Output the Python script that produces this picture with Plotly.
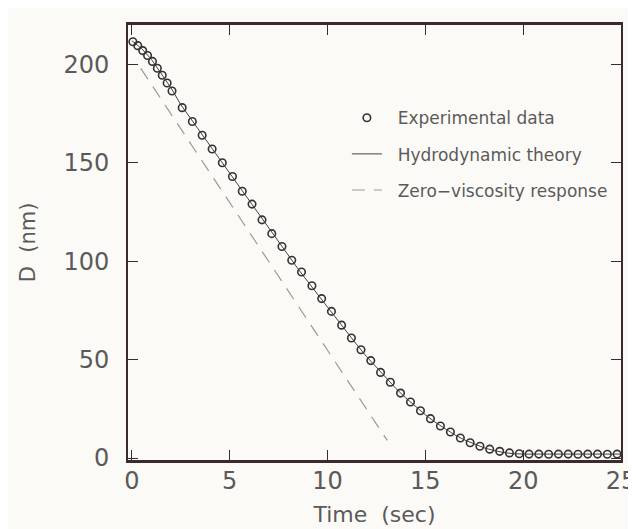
import plotly.graph_objects as go

# ---- data ----
t_exp = [0.05, 0.3, 0.55, 0.8, 1.05, 1.3, 1.55, 1.8, 2.05, 2.57, 3.09, 3.59, 4.10, 4.62,
         5.14, 5.64, 6.14, 6.65, 7.15, 7.67, 8.17, 8.67, 9.20, 9.70, 10.20, 10.72,
         11.22, 11.71, 12.21, 12.71, 13.21, 13.73, 14.24, 14.75, 15.26, 15.77, 16.28,
         16.79, 17.29, 17.79, 18.29, 18.8, 19.3, 19.8, 20.3, 20.8, 21.3, 21.8, 22.3,
         22.8, 23.3, 23.8, 24.3, 24.8]
d_exp = [211.5, 209.5, 207, 204.5, 201.5, 198, 194.5, 190.5, 186.5, 178, 171, 164, 157, 150,
         143, 135.5, 129, 121, 114, 107.5, 100.5, 94.5, 87.5, 81, 74.5, 67.5,
         61, 55, 49.5, 43.5, 38.5, 33, 28.5, 24, 20, 16.3, 13.2,
         10.2, 7.8, 6.0, 4.5, 3.4, 2.6, 2.2, 2.0, 2.0, 1.9, 2.0, 2.0,
         1.9, 2.0, 2.0, 1.9, 2.0]

t_theory = [0, 0.5, 1, 1.5, 2, 2.5, 3, 3.5, 4, 4.5, 5, 5.5, 6, 6.5, 7, 7.5, 8, 8.5, 9, 9.5,
            10, 10.5, 11, 11.5, 12, 12.5, 13, 13.5, 14, 14.5, 15, 15.5, 16, 16.5, 17, 17.5,
            18, 18.5, 19, 19.5, 20, 21, 22, 23, 24, 25]
d_theory = [212, 208, 202.5, 195.5, 188, 179.5, 172.5, 165.5, 158.5, 151.5, 144.5, 137.5,
            130.5, 123.5, 116.5, 109.5, 102.5, 96, 89.5, 83, 76.5, 70, 63.5, 57.5, 51.5,
            46, 40.5, 35.3, 30.5, 26, 22, 18.2, 14.8, 11.8, 9.2, 7.0, 5.2, 3.8, 2.8, 2.2,
            2.0, 2.0, 2.0, 2.0, 2.0, 2.0]

t_zero = [0.45, 13.05]
d_zero = [198, 9]

x_ticks = [0, 5, 10, 15, 20, 25]
y_ticks = [0, 50, 100, 150, 200]

names = ["  Experimental data", "  Hydrodynamic theory", "  Zero\u2212viscosity response"]

frame = "#3b2b2e"
bg = "#fcfaf7"
txt = "#5a5a5a"

fig = go.Figure()
fig.add_trace(go.Scatter(
    x=t_theory, y=d_theory, mode="lines", name=names[1], legendgroup="b", legendrank=2,
    line=dict(color="#444444", width=1)))
fig.add_trace(go.Scatter(
    x=t_zero, y=d_zero, mode="lines", name=names[2], legendgroup="c", legendrank=3,
    line=dict(color="#9a9a9a", width=1.2, dash="13px,9px")))
fig.add_trace(go.Scatter(
    x=t_exp, y=d_exp, mode="markers", name=names[0], legendgroup="a", legendrank=1,
    marker=dict(symbol="circle-open", size=7.5, color="#333333", line=dict(width=1.6))))

axis_common = dict(
    showline=True, linecolor=frame, mirror="allticks",
    ticks="inside", ticklen=10, tickwidth=1.3, tickcolor=frame,
    showgrid=False, zeroline=False, ticklabeloverflow="allow",
    tickfont=dict(family="DejaVu Sans", size=24, color=txt),
)

fig.update_xaxes(range=[-0.2, 25.0], tickvals=x_ticks, ticktext=[str(v) for v in x_ticks],
                 linewidth=2.5, ticklabelstandoff=-3,
                 title=dict(text="Time  (sec)", font=dict(family="DejaVu Sans", size=22, color=txt),
                            standoff=14),
                 **axis_common)
fig.update_yaxes(range=[-1, 220], tickvals=y_ticks, ticktext=[str(v) for v in y_ticks],
                 linewidth=2, ticklabelstandoff=12,
                 title=dict(text="D  (nm)", font=dict(family="DejaVu Sans", size=21, color=txt),
                            standoff=22),
                 **axis_common)

fig.update_layout(
    width=636, height=529,
    margin=dict(l=120, r=8, t=17, b=77),
    paper_bgcolor=bg, plot_bgcolor=bg,
    showlegend=True,
    legend=dict(x=0.444, y=0.827, xanchor="left", yanchor="top",
                bgcolor="rgba(0,0,0,0)", borderwidth=0,
                font=dict(family="DejaVu Sans", size=17, color=txt),
                tracegroupgap=11, itemwidth=30),
)

fig.write_html("out.html")
